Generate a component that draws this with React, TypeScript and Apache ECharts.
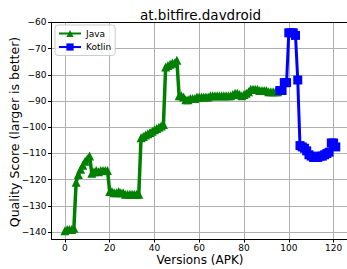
import React, { useEffect, useRef } from "react";
import * as echarts from "echarts";

const chartTitle = "at.bitfire.davdroid";
const xAxisTitle = "Versions (APK)";
const yAxisTitle = "Quality Score (larger is better)";

const javaStart = 0;
const javaScores = [
  -139.5, -139, -139, -139, -138.5, -121, -118, -116, -114.5, -113,
  -112, -111, -117.5, -117, -116.5, -117, -116.5, -116.5, -116.5, -116.5,
  -124.5, -124.5, -125, -125, -124.5, -125, -125, -125.5, -125.5, -125.5,
  -125.5, -125.5, -125.5, -125.5, -104, -103.5, -103, -102.5, -102, -101.5,
  -101, -100.5, -100, -99.5, -99, -77, -76.5, -76, -75.5, -75.5,
  -74.5, -88, -88, -88.5, -89.5, -89.5, -89, -89, -89, -88.5,
  -88.5, -88.5, -88.5, -88.5, -88.5, -88, -88, -88, -88, -88,
  -88, -88, -88, -88, -88, -87.5, -87, -87, -87.5, -88,
  -87.5, -87, -86.5, -85.5, -85.5, -85.5, -85.5, -86, -86, -86,
  -86, -86.5, -86.5, -86.5, -86.5, -86.5, -86,
];

const kotlinStart = 96;
const kotlinScores = [
  -86, -86, -83, -83, -64, -64, -64, -65, -82, -107,
  -107.5, -108, -109, -110.5, -111, -111.5, -111.5, -111.5, -111, -111,
  -110.5, -110, -109.5, -106, -106, -107.5,
];

const xTicks = [0, 20, 40, 60, 80, 100, 120];
const yTicks = [-140, -130, -120, -110, -100, -90, -80, -70, -60];

const FONT = "DejaVu Sans";
const fmt = (v: number) => (v < 0 ? "\u2212" : "") + Math.abs(v);

export default function App() {
  const ref = useRef<HTMLDivElement>(null);
  useEffect(() => {
    if (!ref.current) return;
    const chart = echarts.init(ref.current, undefined, { renderer: "svg" });
    const javaData = javaScores.map((y, i) => [javaStart + i, y]);
    const kotlinData = kotlinScores.map((y, i) => [kotlinStart + i, y]);
    const gridLine = { show: true, lineStyle: { color: "#b0b0b0", width: 1 } };
    chart.setOption({
      animation: false,
      backgroundColor: "#ffffff",
      textStyle: { fontFamily: FONT },
      grid: { left: 51.5, top: 22.3, width: 297, height: 216.7, containLabel: false },
      xAxis: [
        {
          type: "value",
          min: -6,
          max: 126,
          axisLine: { show: true, onZero: false, lineStyle: { color: "#000", width: 1 } },
          axisTick: { show: true, inside: false, length: 3.5, customValues: xTicks, lineStyle: { color: "#000" } },
          axisLabel: {
            customValues: xTicks,
            formatter: fmt,
            fontSize: 9,
            color: "#000",
            fontFamily: FONT,
            margin: 4,
          },
          splitLine: gridLine,
        },
        {
          type: "value",
          position: "top",
          min: -6,
          max: 126,
          axisLine: { show: true, onZero: false, lineStyle: { color: "#000", width: 1 } },
          axisTick: { show: false },
          axisLabel: { show: false },
          splitLine: { show: false },
        },
      ],
      yAxis: {
        type: "value",
        min: -142.6,
        max: -60,
        axisLine: { show: true, onZero: false, lineStyle: { color: "#000", width: 1 } },
        axisTick: { show: true, inside: false, length: 3.5, customValues: yTicks, lineStyle: { color: "#000" } },
        axisLabel: {
          customValues: yTicks,
          formatter: fmt,
          fontSize: 9,
          color: "#000",
          fontFamily: FONT,
          margin: 5,
        },
        splitLine: gridLine,
      },
      legend: {
        orient: "vertical",
        left: 55,
        top: 25,
        padding: [4, 4, 4, 3],
        itemWidth: 22,
        itemHeight: 9,
        itemGap: 4.5,
        backgroundColor: "rgba(255,255,255,0.8)",
        borderColor: "#cccccc",
        borderWidth: 1,
        borderRadius: 3,
        textStyle: { fontSize: 9, color: "#000", fontFamily: FONT },
        data: ["Java", "Kotlin"],
      },
      graphic: [
        {
          type: "text",
          x: 200.5,
          y: 15,
          style: { text: chartTitle, font: `13.5px "${FONT}"`, fill: "#000", align: "center", verticalAlign: "middle" },
        },
        {
          type: "text",
          x: 200,
          y: 260,
          style: { text: xAxisTitle, font: `12px "${FONT}"`, fill: "#000", align: "center", verticalAlign: "middle" },
        },
        {
          type: "text",
          x: 14,
          y: 132,
          rotation: Math.PI / 2,
          style: { text: yAxisTitle, font: `12.5px "${FONT}"`, fill: "#000", align: "center", verticalAlign: "middle" },
        },
      ],
      series: [
        {
          name: "Java",
          type: "line",
          data: javaData,
          color: "#008000",
          symbol: "triangle",
          symbolSize: 9,
          showAllSymbol: true,
          lineStyle: { width: 3.5, color: "#008000" },
          itemStyle: { color: "#008000" },
        },
        {
          name: "Kotlin",
          type: "line",
          data: kotlinData,
          color: "#0000ff",
          symbol: "rect",
          symbolSize: 9,
          showAllSymbol: true,
          lineStyle: { width: 3, color: "#0000ff" },
          itemStyle: { color: "#0000ff" },
        },
      ],
    });
    return () => chart.dispose();
  }, []);
  return (
    <div
      ref={ref}
      style={{ position: "absolute", left: 0, top: 0, width: 347, height: 269, background: "#fff" }}
    />
  );
}
